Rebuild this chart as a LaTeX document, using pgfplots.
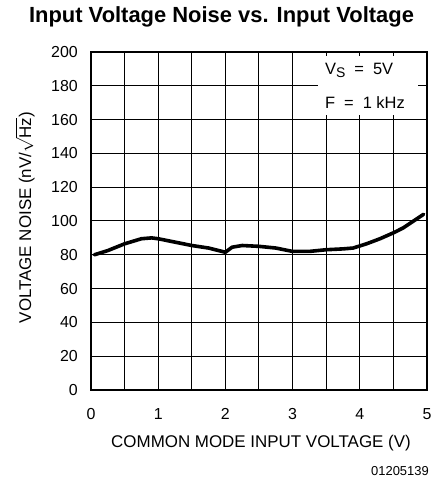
\documentclass[border=0pt]{standalone}
\usepackage{fontspec}
\setmainfont{Liberation Sans}
\newfontfamily\axfont{Liberation Sans}
\usepackage{pgfplots}
\pgfplotsset{compat=1.18}
\begin{document}
\begin{tikzpicture}
\useasboundingbox (-91bp,-94bp) rectangle (344bp,390bp);
\begin{axis}[
  at={(0,0)}, anchor=south west,
  scale only axis,
  width=336bp, height=338bp,
  xmin=0, xmax=5, ymin=0, ymax=200,
  xtick={0,1,...,5},
  minor xtick={0.5,1.5,...,4.5},
  ytick={0,20,...,200},
  grid=both,
  major grid style={black, line width=1bp},
  minor grid style={black, line width=1bp},
  major tick length=0pt, minor tick length=0pt,
  axis line style={black, line width=1.4bp},
  /pgf/number format/assume math mode=true,
  tick label style={font=\axfont\fontsize{16}{16}\selectfont, inner sep=0pt},
  xticklabel style={anchor=center, yshift=-24bp},
  yticklabel style={anchor=east, xshift=-13bp},
  label style={font=\axfont\fontsize{17}{17}\selectfont},
  xlabel={COMMON MODE INPUT VOLTAGE (V)},
  ylabel={VOLTAGE NOISE (nV/$\sqrt{\mbox{\axfont Hz}}$)},
  xlabel style={at={(axis description cs:0.506,-0.157)}, anchor=center},
  ylabel style={at={(axis description cs:-0.196,0.51)}, anchor=center},
]
\addplot[black, line width=3.6bp, line join=round, line cap=round] coordinates {
  (0.05,80) (0.25,82.5) (0.5,86.5) (0.75,89.5) (0.9,90) (1.0,89.5)
  (1.25,87.5) (1.5,85.5) (1.75,84) (1.95,82) (2.0,81.5) (2.1,84.5)
  (2.25,85.5) (2.5,85) (2.75,84) (3.0,82) (3.25,82) (3.5,83)
  (3.75,83.5) (3.9,84) (4.1,86.5) (4.3,89.5) (4.5,93) (4.65,96)
  (4.8,100) (4.95,104)
};
\fill[white] (axis cs:3.38,162.5) rectangle (axis cs:4.87,197.6);
\node[anchor=west, font=\axfont\fontsize{16.5}{16.5}\selectfont, inner sep=0pt]
  at (axis cs:3.48,189) {V\raisebox{-0.35ex}{\fontsize{14}{14}\selectfont S}\hspace{0.55em}=\hspace{0.55em}5V};
\node[anchor=west, font=\axfont\fontsize{16.5}{16.5}\selectfont, inner sep=0pt]
  at (axis cs:3.48,170) {F\hspace{0.55em}=\hspace{0.55em}1 kHz};
\end{axis}
\node[font=\bfseries\fontsize{22}{22}\selectfont] at (130.5bp,373bp)
  {Input Voltage Noise vs. Input Voltage};
\node[anchor=east, font=\fontsize{13}{13}\selectfont, inner sep=0pt] at (338bp,-81bp) {01205139};
\end{tikzpicture}
\end{document}
